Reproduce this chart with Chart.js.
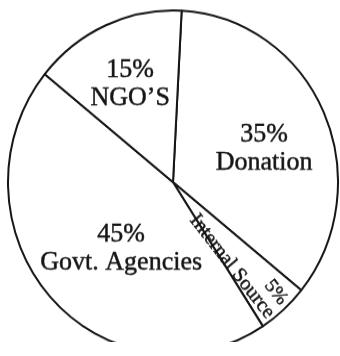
<!DOCTYPE html>
<html>
<head>
<meta charset="utf-8">
<script src="https://cdn.jsdelivr.net/npm/chart.js@4/dist/chart.umd.min.js"></script>
<style>
  html, body { margin: 0; padding: 0; background: #ffffff; overflow: hidden; }
  #wrap { width: 340px; height: 342px; transform: scaleY(1.04094); transform-origin: 0 0; }
</style>
</head>
<body>
<div id="wrap"><canvas id="c" width="340" height="342"></canvas></div>
<script>
// ---- data ----
const categories = ['Donation', 'Internal Source', 'Govt. Agencies', 'NGO\u2019S'];
const values = [35, 5, 45, 15];
const percentLabels = ['35%', '5%', '45%', '15%'];

// ---- label layout (fractions of each slice's angle / radius) ----
const labelLayout = [
  { t: 0.567, r: 0.573, mode: 'stack', size: 26 },
  { t: 0.83,  r: 0.607, mode: 'rotated', size: 20, rot: 51, pctT: 0.38, pctR: 0.895, pctSize: 19 },
  { t: 0.429, r: 0.528, mode: 'stack', size: 26 },
  { t: 0.461, r: 0.59,  mode: 'stack', size: 26 }
];

const INK = '#161616';
const FONT = '"Liberation Serif", "Times New Roman", serif';

function inkText(ctx, s, x, y) {
  ctx.fillText(s, x, y);
  ctx.strokeText(s, x, y);
}

const pieLabels = {
  id: 'pieLabels',
  afterDatasetsDraw(chart) {
    const ctx = chart.ctx;
    const meta = chart.getDatasetMeta(0);
    meta.data.forEach((arc, i) => {
      const p = arc.getProps(['x', 'y', 'startAngle', 'endAngle', 'outerRadius'], true);
      const L = labelLayout[i];
      const pos = (t, r) => {
        const a = p.startAngle + (p.endAngle - p.startAngle) * t;
        return { x: p.x + Math.cos(a) * p.outerRadius * r, y: p.y + Math.sin(a) * p.outerRadius * r };
      };
      const setup = () => {
        ctx.fillStyle = INK;
        ctx.strokeStyle = INK;
        ctx.lineWidth = 0.45;
        ctx.lineJoin = 'round';
        ctx.textAlign = 'center';
      };
      ctx.save();
      setup();
      if (L.mode === 'stack') {
        const c = pos(L.t, L.r);
        ctx.font = L.size + 'px ' + FONT;
        ctx.textBaseline = 'alphabetic';
        const lh = 27;
        inkText(ctx, percentLabels[i], c.x, c.y - lh / 2);
        inkText(ctx, categories[i], c.x, c.y + lh / 2);
      } else {
        const c = pos(L.t, L.r);
        ctx.textBaseline = 'middle';
        ctx.font = L.size + 'px ' + FONT;
        ctx.translate(c.x, c.y);
        ctx.rotate(L.rot * Math.PI / 180);
        inkText(ctx, categories[i], 0, 0);
        ctx.restore();
        ctx.save();
        setup();
        ctx.textBaseline = 'middle';
        const q = pos(L.pctT, L.pctR);
        ctx.font = L.pctSize + 'px ' + FONT;
        ctx.translate(q.x, q.y);
        ctx.rotate(L.rot * Math.PI / 180);
        inkText(ctx, percentLabels[i], 0, 0);
      }
      ctx.restore();
    });
  }
};

new Chart(document.getElementById('c'), {
  type: 'pie',
  data: {
    labels: categories,
    datasets: [{
      data: values,
      backgroundColor: '#ffffff',
      borderColor: INK,
      borderWidth: 2
    }]
  },
  options: {
    responsive: false,
    devicePixelRatio: 1,
    animation: false,
    rotation: 3,
    layout: { padding: { left: 7, right: 1, top: 9, bottom: 1 } },
    plugins: {
      legend: { display: false },
      tooltip: { enabled: false }
    }
  },
  plugins: [pieLabels]
});
</script>
</body>
</html>
